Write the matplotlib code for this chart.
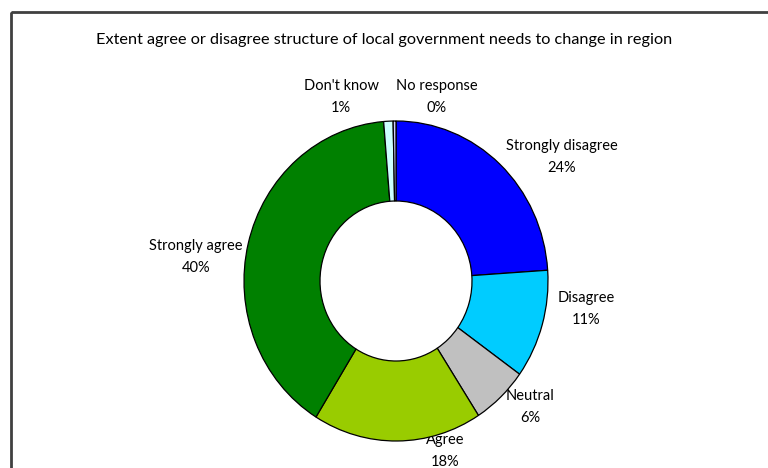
import matplotlib
matplotlib.use("Agg")
import matplotlib.pyplot as plt
from matplotlib.patches import Rectangle

plt.rcParams['font.family'] = ['Lato', 'DejaVu Sans']

title = "Extent agree or disagree structure of local government needs to change in region"
categories = ["Strongly disagree", "Disagree", "Neutral", "Agree",
              "Strongly agree", "Don't know", "No response"]
values = [24, 11, 6, 18, 40, 1, 0.3]
colors = ["#0000FF", "#00CCFF", "#C0C0C0", "#99CC00",
          "#008000", "#CCFFFF", "#CCCCFF"]

# label anchor positions in figure pixels (x, y from top)
label_pos = [(562, 157), (586, 309), (530, 407), (445, 451),
             (196, 257), (341, 97), (437, 97)]

W, H = 768, 468
fig = plt.figure(figsize=(W / 100, H / 100), dpi=100)
fig.patch.set_facecolor("white")

# outer frame of the chart area
bg = fig.add_axes([0, 0, 1, 1])
bg.set_xlim(0, W)
bg.set_ylim(H, 0)
bg.axis("off")
bg.add_patch(Rectangle((11, 12), 800, 500, fill=False, edgecolor="#404040", lw=2))

bg.text(384, 40, title, ha="center", va="center", fontsize=11.7, color="black")

# donut axes (slightly taller than wide)
left, right, top, bottom = 244, 548, 121, 441
ax = fig.add_axes([left / W, (H - bottom) / H, (right - left) / W, (bottom - top) / H])
wedges, _ = ax.pie(values, colors=colors, startangle=90, counterclock=False,
                   radius=1.0, wedgeprops=dict(width=0.5, edgecolor="black", linewidth=0.9))
for w in wedges:
    w.set_clip_on(False)
ax.set_aspect("auto")
ax.set_xlim(-1, 1)
ax.set_ylim(-1, 1)
ax.axis("off")

total = sum(values)
for name, v, (x, y) in zip(categories, values, label_pos):
    pct = round(100 * v / total)
    bg.text(x, y, f"{name}\n{pct}%", ha="center", va="center", fontsize=10.5,
            linespacing=1.75, color="black")

fig.savefig("out.png", dpi=100)
